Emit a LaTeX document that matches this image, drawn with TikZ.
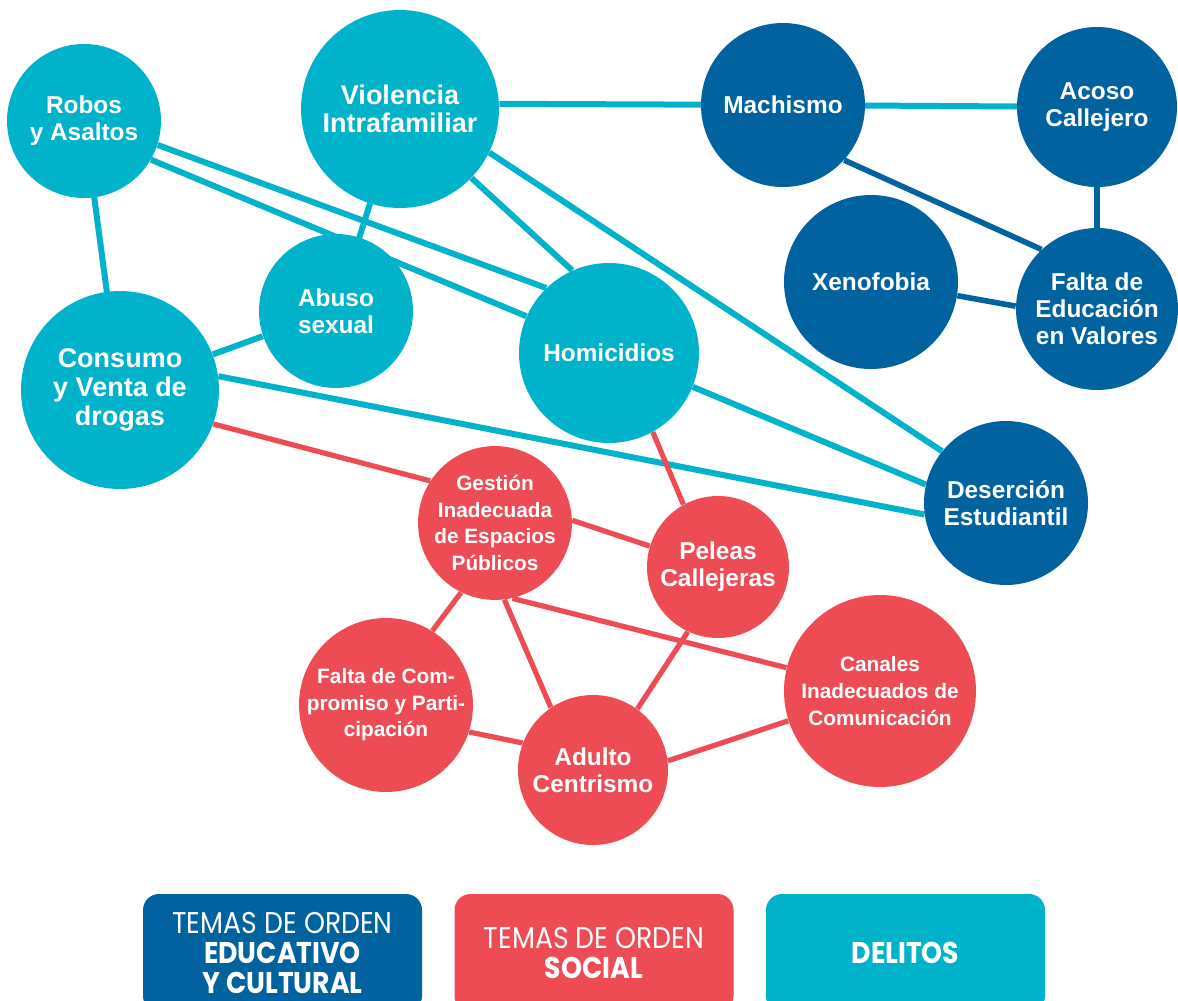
\documentclass[tikz,border=0pt]{standalone}
\usepackage{fontspec}
\setmainfont{Liberation Sans}
\newfontfamily\legendfont{Poppins}[FakeStretch=0.89]
\usetikzlibrary{positioning}
\definecolor{cteal}{HTML}{00B3CA}
\definecolor{cblue}{HTML}{00629F}
\definecolor{cred}{HTML}{EE4C55}
\pgfdeclarelayer{bg}
\pgfsetlayers{bg,main}
\newcommand{\fN}{\fontsize{12.2}{13.5}\selectfont\bfseries}
\newcommand{\fL}{\fontsize{13.5}{14.3}\selectfont\bfseries}
\newcommand{\fS}{\fontsize{10.4}{13.3}\selectfont\bfseries}
\newcommand{\fLeg}{\fontsize{15}{15}\selectfont\legendfont}
\begin{document}
\begin{tikzpicture}[x=0.5pt,y=-0.5pt,
  nd/.style={circle, inner sep=0pt, align=center, text=white},
  del/.style={nd, fill=cteal},
  edu/.style={nd, fill=cblue},
  soc/.style={nd, fill=cred},
  tl/.style={draw=cteal, line width=3pt},
  bl/.style={draw=cblue, line width=2.8pt},
  rl/.style={draw=cred, line width=2.6pt},
  legbox/.style={rectangle, rounded corners=8pt, minimum width=139.5pt, minimum height=59pt, inner sep=0pt, align=center, text=white, font=\fLeg}]
\useasboundingbox (0,0) rectangle (1178,1001);

% Delitos
\node[del, minimum size=77pt, font=\fN] (robos) at (84,121) {Robos\\y Asaltos};
\node[del, minimum size=99pt, font=\fL] (viol) at (400,109) {Violencia\\Intrafamiliar};
\node[del, minimum size=77pt, font=\fN] (abuso) at (336,311) {Abuso\\sexual};
\node[del, minimum size=99pt, font=\fL] (consumo) at (120,390) {Consumo\\y Venta de\\drogas};
\node[del, minimum size=90pt, font=\fN] (homi) at (609,353) {Homicidios};
% Educativo y cultural
\node[edu, minimum size=82pt, font=\fN] (mach) at (783,105) {Machismo};
\node[edu, minimum size=80pt, font=\fN] (acoso) at (1097,107) {Acoso\\Callejero};
\node[edu, minimum size=87pt, font=\fN] (xeno) at (871,282) {Xenofobia};
\node[edu, minimum size=81pt, font=\fN] (fedu) at (1097,309) {Falta de\\Educación\\en Valores};
\node[edu, minimum size=82pt, font=\fN] (deser) at (1006,503) {Deserción\\Estudiantil};
% Social
\node[soc, minimum size=73pt, font=\fS] (gest) at (495,523) {Gestión\\Inadecuada\\de Espacios\\Públicos};
\node[soc, minimum size=71pt, font=\fN] (peleas) at (718,567) {Peleas\\Callejeras};
\node[soc, minimum size=84pt, font=\fS] (fcomp) at (386,705) {Falta de Com-\\promiso y Parti-\\cipación};
\node[soc, minimum size=75pt, font=\fN] (adulto) at (593,770) {Adulto\\Centrismo};
\node[soc, minimum size=96pt, font=\fS] (canales) at (880,691) {Canales\\Inadecuados de\\Comunicación};

\begin{pgfonlayer}{bg}
% teal connectors
\path[tl] (viol.3) -- (mach.center);
\path[tl] (mach.center) -- (acoso.center);
\path[tl] (robos.center) -- (consumo.center);
\path[tl] (robos.-18.7) -- (homi.134);
\path[tl] (robos.-30.5) -- (homi.156.8);
\path[tl] (viol.center) -- (abuso.center);
\path[tl] (viol.-44.6) -- (homi.114.4);
\path[tl] (viol.-26) -- (deser.141);
\path[tl] (consumo.21.9) -- (abuso.199.6);
\path[tl] (consumo.8.7) -- (deser.188.6);
\path[tl] (homi.-22.3) -- (deser.167);
% blue connectors
\path[bl] (mach.-42.6) -- (fedu.133.6);
\path[bl] (acoso.center) -- (fedu.center);
\path[bl] (xeno.-9.8) -- (fedu.178.6);
% red connectors
\path[rl] (consumo.-20.6) -- (gest.147.2);
\path[rl] (homi.-61.4) -- (peleas.119.4);
\path[rl] (gest.2.4) -- (peleas.163.6);
\path[rl] (gest.-116.9) -- (fcomp.58.6);
\path[rl] (gest.-83.7) -- (adulto.124.3);
\path[rl] (gest.-77.9) -- (canales.166.1);
\path[rl] (peleas.-115.9) -- (adulto.54.6);
\path[rl] (fcomp.-18.9) -- (adulto.159.4);
\path[rl] (adulto.7.7) -- (canales.198.8);
\end{pgfonlayer}

% legend
\node[legbox, fill=cblue] (leg1) at (282.5,953) {TEMAS DE ORDEN\\\bfseries EDUCATIVO\\\bfseries Y CULTURAL};
\node[legbox, fill=cred] (leg2) at (594,953) {TEMAS DE ORDEN\\\bfseries SOCIAL};
\node[legbox, fill=cteal] (leg3) at (905.5,953) {\bfseries DELITOS};
\end{tikzpicture}
\end{document}
